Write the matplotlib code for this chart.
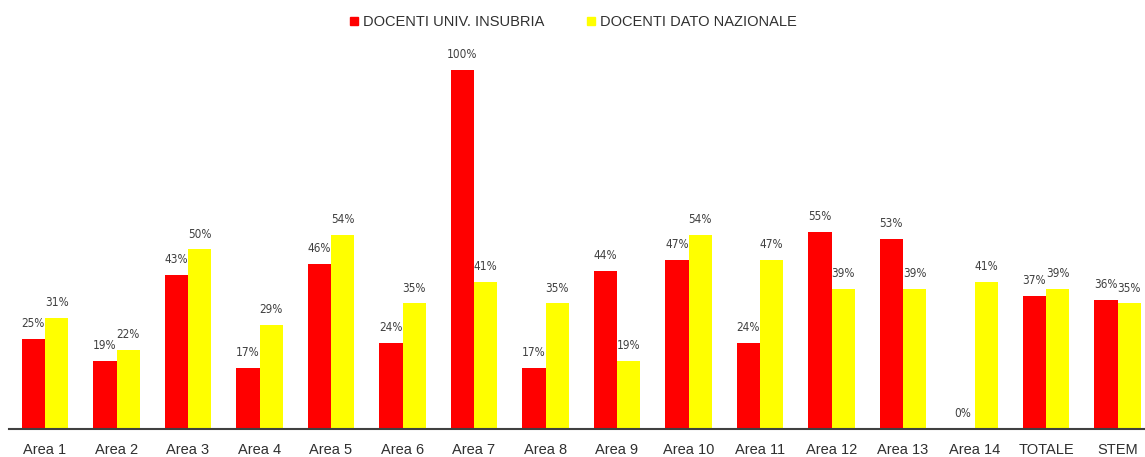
import numpy as np
import matplotlib
matplotlib.use("Agg")
import matplotlib.pyplot as plt
from matplotlib.lines import Line2D

plt.rcParams['font.family'] = ['Liberation Sans', 'DejaVu Sans']

# data
categories = ["Area 1", "Area 2", "Area 3", "Area 4", "Area 5", "Area 6", "Area 7", "Area 8",
              "Area 9", "Area 10", "Area 11", "Area 12", "Area 13", "Area 14", "TOTALE", "STEM"]
insubria = [25, 19, 43, 17, 46, 24, 100, 17, 44, 47, 24, 55, 53, 0, 37, 36]
nazionale = [31, 22, 50, 29, 54, 35, 41, 35, 19, 54, 47, 39, 39, 41, 39, 35]
series_names = ["DOCENTI UNIV. INSUBRIA", "DOCENTI DATO NAZIONALE"]

red = "#ff0000"
yellow = "#ffff00"
txt = "#404040"

fig = plt.figure(figsize=(11.45, 4.57), dpi=100)
ymax = 115
# axis spans a bit beyond the right edge, like the cropped original
ax = fig.add_axes([9.25 / 1145, 28 / 457, 1144 / 1145, 359 * ymax / 100 / 457])

x = np.arange(len(categories))
w = 0.325
b1 = ax.bar(x - w / 2, insubria, w, color=red)
b2 = ax.bar(x + w / 2, nazionale, w, color=yellow)

for bars, vals in ((b1, insubria), (b2, nazionale)):
    for rect, v in zip(bars, vals):
        ax.annotate(f"{v}%", (rect.get_x() + rect.get_width() / 2, v),
                    xytext=(0, 11), textcoords="offset points",
                    ha="center", va="center", fontsize=8.5, color=txt,
                    family=["DejaVu Sans"], fontstretch="condensed")

ax.set_xlim(-0.5, len(categories) - 0.5)
ax.set_ylim(0, ymax)
ax.set_yticks([])
ax.set_xticks(x)
ax.set_xticklabels(categories, fontsize=10.5, color="#303030")
ax.tick_params(axis="x", length=0, pad=10)
for s in ("top", "right", "left"):
    ax.spines[s].set_visible(False)
ax.spines["bottom"].set_color(txt)
ax.spines["bottom"].set_linewidth(1.5)

handles = [Line2D([], [], marker="s", linestyle="", color=c, markersize=6) for c in (red, yellow)]
fig.legend(handles, series_names, loc="upper center", bbox_to_anchor=(0.5, 0.995), ncol=2,
           frameon=False, fontsize=10.5, handlelength=0.8, handletextpad=0.2,
           columnspacing=2.8, labelcolor="#303030")

fig.savefig("out.png", dpi=100)
